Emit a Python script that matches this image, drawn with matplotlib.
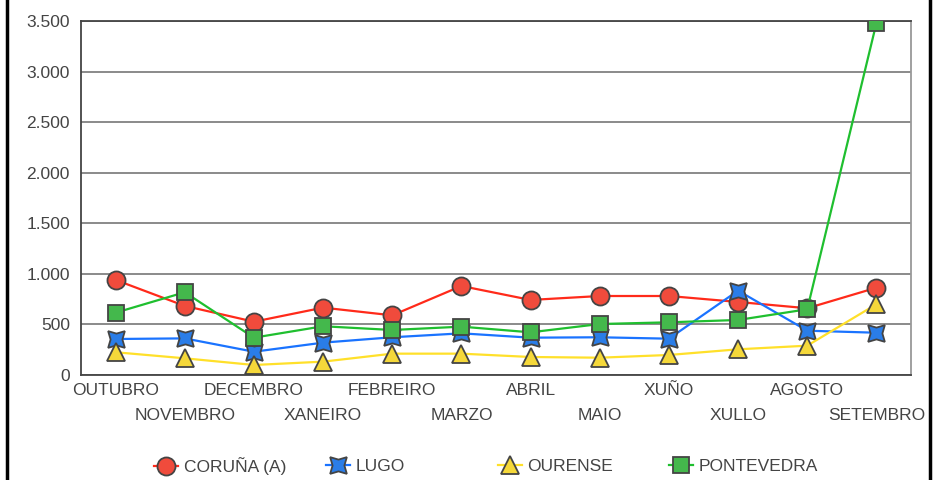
import matplotlib
matplotlib.use("Agg")
import matplotlib.pyplot as plt
from matplotlib.lines import Line2D

plt.rcParams['font.family'] = ['Liberation Sans', 'DejaVu Sans']

meses = ['OUTUBRO', 'NOVEMBRO', 'DECEMBRO', 'XANEIRO', 'FEBREIRO', 'MARZO',
         'ABRIL', 'MAIO', 'XUÑO', 'XULLO', 'AGOSTO', 'SETEMBRO']
coruna = [940, 683, 527, 666, 590, 880, 742, 781, 781, 722, 660, 863]
lugo = [356, 362, 230, 320, 373, 412, 369, 373, 359, 834, 438, 418]
ourense = [225, 165, 99, 132, 211, 211, 178, 171, 198, 254, 290, 700]
pontevedra = [616, 818, 369, 482, 445, 478, 422, 504, 521, 544, 650, 3480]
yticks = [0, 500, 1000, 1500, 2000, 2500, 3000, 3500]
ylabels = ['0', '500', '1.000', '1.500', '2.000', '2.500', '3.000', '3.500']

series = [
    ('CORUÑA (A)', coruna, '#ff2a1a', '#f04b3c', 'o', 13),
    ('LUGO', lugo, '#1a73ff', '#2a7de8', (4, 1, 45), 17),
    ('OURENSE', ourense, '#ffe02a', '#f5d83a', '^', 13),
    ('PONTEVEDRA', pontevedra, '#1fbf2f', '#44b84c', 's', 12),
]

fig = plt.figure(figsize=(9.41, 4.8), dpi=100)
ax = fig.add_axes([81 / 941, 1 - 375 / 480, 830 / 941, 354 / 480])

x = list(range(len(meses)))
handles = []
for nome, vals, lc, fc, mk, ms in series:
    h, = ax.plot(x, vals, color=lc, lw=1.6, marker=mk, markersize=ms,
                 markerfacecolor=fc, markeredgecolor='#444444', markeredgewidth=1.3,
                 zorder=3, label=nome)
    handles.append(h)

ax.set_xlim(-0.5, 11.5)
ax.set_ylim(0, 3500)
ax.set_yticks(yticks)
ax.set_yticklabels(ylabels)
ax.grid(axis='y', color='#777777', lw=1.2)
ax.set_axisbelow(True)
ax.tick_params(axis='both', which='both', length=0, labelsize=12.5, colors='#444444')
ax.tick_params(axis='y', pad=8)

# etiquetas del eje x en dos filas alternas
ax.set_xticks(x[0::2])
ax.set_xticklabels(meses[0::2])
ax.set_xticks(x[1::2], minor=True)
ax.set_xticklabels(meses[1::2], minor=True)
ax.tick_params(axis='x', which='major', pad=6)
ax.tick_params(axis='x', which='minor', pad=24)

for s in ['left', 'bottom', 'top']:
    ax.spines[s].set_color('#444444')
    ax.spines[s].set_linewidth(1.3)
ax.spines['right'].set_color('#999999')
ax.spines['right'].set_linewidth(1.3)

# leyenda con posiciones fijas
posx = [154, 326, 498, 669]
for h, px in zip(handles, posx):
    fig.legend(handles=[h], loc='center left', bbox_to_anchor=(px / 941, 1 - 466 / 480),
               frameon=False, fontsize=12.5, handlelength=1.4, handletextpad=0.3,
               borderaxespad=0, borderpad=0, labelcolor='#444444')

# marco exterior
fig.add_artist(Line2D([7 / 941, 7 / 941], [0, 1], color='black', lw=2.5))
fig.add_artist(Line2D([930 / 941, 930 / 941], [0, 1], color='black', lw=2.5))

fig.savefig('out.png', dpi=100)
